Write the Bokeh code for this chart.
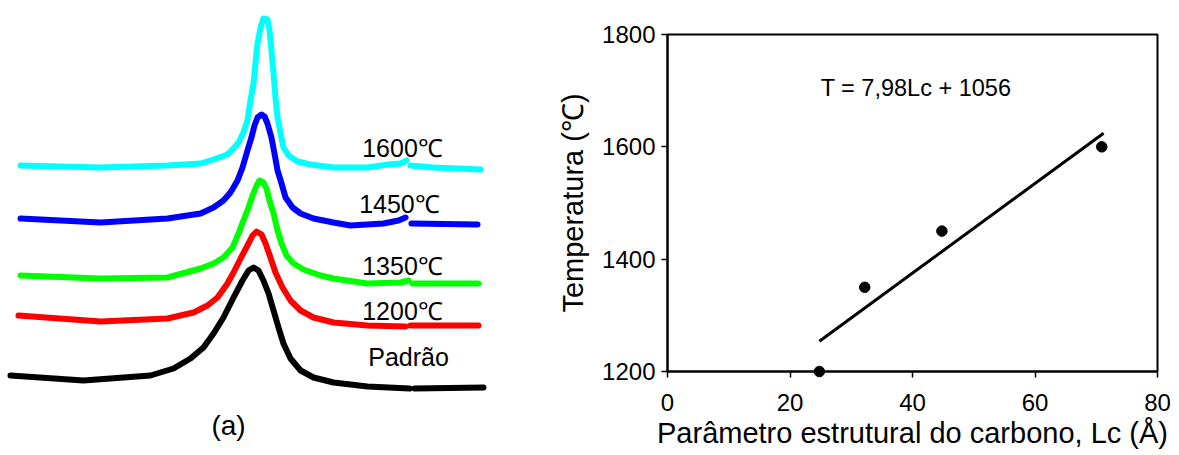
import numpy as np
from bokeh.plotting import figure
from bokeh.layouts import row
from bokeh.models import Range1d, FixedTicker
from bokeh.core.properties import value
from bokeh.embed import file_html
from bokeh.resources import INLINE

FONT = "Liberation Sans"
nan = float("nan")

# ---------------- Panel (a): diffractograms (2theta in degrees, intensity a.u.) ----------------
tt_1600 = [10.63, 15.63, 19.81, 21.88, 22.69, 23.56, 23.94, 24.25, 24.56, 24.81, 25.00, 25.19, 25.31,
           25.44, 25.63, 25.81, 26.06, 26.19, 26.31, 26.44, 26.56, 26.69, 26.88, 27.06, 27.38, 27.94,
           28.75, 30.19, 32.31, 33.60, 34.38, 34.75, nan, 35.00, 36.44, 39.38]
i_1600 = [290, 288, 290, 292, 296, 301, 307, 313, 323, 335, 355, 372, 392,
          412, 428, 437, 436, 425, 405, 382, 358, 338, 322, 308, 300, 294,
          291, 288, 288, 291, 292, 295, nan, 290, 288, 286]

tt_1450 = [10.63, 15.63, 19.81, 21.88, 22.69, 23.31, 23.75, 24.19, 24.50, 24.81, 25.06, 25.25, 25.44,
           25.69, 25.88, 26.06, 26.31, 26.50, 26.69, 26.94, 27.19, 27.63, 28.13, 28.94, 30.19, 31.25,
           33.31, 34.25, 34.69, nan, 35.06, 39.19]
i_1450 = [237, 233, 237, 242, 248, 255, 263, 275, 288, 305, 318, 330, 338,
          341, 339, 332, 318, 302, 285, 272, 258, 248, 242, 237, 233, 230,
          232, 235, 238, nan, 232, 231]

tt_1350 = [10.63, 15.63, 19.81, 21.88, 22.69, 23.31, 23.88, 24.25, 24.56, 24.88, 25.13, 25.38, 25.56,
           25.81, 26.00, 26.19, 26.44, 26.69, 26.94, 27.25, 27.69, 28.31, 29.38, 30.19, 32.31, 34.38,
           34.88, nan, 35.13, 39.25]
i_1350 = [180, 177, 178, 187, 192, 198, 208, 222, 235, 248, 260, 270, 275,
          273, 267, 255, 242, 225, 212, 200, 192, 186, 180, 177, 172, 173,
          175, nan, 172, 172]

tt_1200 = [10.50, 15.63, 19.81, 21.44, 22.31, 22.94, 23.56, 23.94, 24.38, 24.81, 25.13, 25.38, 25.69,
           25.94, 26.25, 26.56, 27.00, 27.50, 28.13, 28.94, 30.19, 32.31, 34.69, nan, 35.00, 39.25]
i_1200 = [140, 134, 137, 143, 150, 158, 172, 183, 197, 210, 220, 224, 221,
          212, 198, 183, 168, 155, 145, 138, 133, 130, 129, nan, 130, 130]

tt_pad = [10.00, 14.56, 18.75, 20.19, 21.25, 22.06, 22.69, 23.31, 23.94, 24.50, 24.88, 25.19, 25.50,
          25.81, 26.13, 26.44, 26.75, 27.06, 27.50, 28.13, 28.94, 30.19, 32.31, 34.94, nan, 35.25, 39.56]
i_pad = [80, 75, 80, 87, 97, 108, 122, 138, 158, 175, 185, 188, 185,
         175, 162, 145, 128, 112, 97, 85, 78, 73, 69, 67, nan, 67, 68]

series_a = [
    (tt_1600, i_1600, "#00FFFF"),
    (tt_1450, i_1450, "#0000FF"),
    (tt_1350, i_1350, "#00FF00"),
    (tt_1200, i_1200, "#FF0000"),
    (tt_pad, i_pad, "#000000"),
]
labels_a = ["1600℃", "1450℃", "1350℃", "1200℃", "Padrão"]
label_tt = [34.5, 34.31, 34.5, 34.5, 34.88]
label_i = [308, 252, 190, 145, 99]

pa = figure(width=540, height=455, output_backend="svg", toolbar_location=None,
            x_axis_location=None, y_axis_location=None,
            x_range=Range1d(9.375, 43.125), y_range=Range1d(0, 455),
            min_border=0, outline_line_color=None)
pa.frame_align = False
pa.grid.visible = False
for xs, ys, col in series_a:
    r_ = pa.line(xs, ys, line_color=col, line_width=6, line_cap="round", line_join="round")
    r_.level = "overlay"
pa.text(label_tt, label_i, text=labels_a, text_align="center", text_baseline="middle",
        text_font=value(FONT), text_font_size="25px", text_color="black")
pa.text([23.63], [30], text=["(a)"], text_align="center", text_baseline="middle",
        text_font=value(FONT), text_font_size="28px", text_color="black")

# ---------------- Panel (b): temperature vs Lc ----------------
lc = [24.8, 32.2, 44.8, 70.9]
temp = [1200, 1350, 1450, 1600]
slope, intercept = 7.98, 1056
fit_lc = np.array([24.8, 71.2])
fit_t = slope * fit_lc + intercept
x_ticks = [0, 20, 40, 60, 80]
y_ticks = [1200, 1400, 1600, 1800]

pb = figure(width=639, height=455, output_backend="svg", toolbar_location=None,
            x_range=Range1d(0, 80), y_range=Range1d(1200, 1800),
            min_border_left=127, min_border_right=22, min_border_top=34, min_border_bottom=84,
            outline_line_color="black", outline_line_width=2)
pb.frame_align = False
pb.grid.visible = False
pb.line(fit_lc, fit_t, line_color="black", line_width=3)
r = pb.scatter(lc, temp, size=10.5, color="black")
r.level = "overlay"
pb.text([25.0], [1704], text=["T = 7,98Lc + 1056"], text_align="left", text_baseline="middle",
        text_font=value(FONT), text_font_size="23.5px", text_color="black")

pb.xaxis.ticker = FixedTicker(ticks=x_ticks)
pb.yaxis.ticker = FixedTicker(ticks=y_ticks)
pb.xaxis.axis_label = "Parâmetro estrutural do carbono, Lc (Å)"
pb.yaxis.axis_label = "Temperatura (℃)"
for ax in (pb.xaxis, pb.yaxis):
    ax.axis_line_width = 2
    ax.axis_line_color = "black"
    ax.major_tick_line_width = 1.5
    ax.major_tick_line_color = "black"
    ax.major_tick_out = 6
    ax.major_tick_in = 0
    ax.minor_tick_line_color = None
    ax.major_label_text_font = FONT
    ax.major_label_text_font_size = "24px"
    ax.major_label_text_color = "black"
    ax.axis_label_text_font = FONT
    ax.axis_label_text_font_size = "29px"
    ax.axis_label_text_font_style = "normal"
    ax.axis_label_text_color = "black"
pb.xaxis.major_label_standoff = 16
pb.xaxis.axis_label_standoff = 3
pb.yaxis.major_label_standoff = 6
pb.yaxis.axis_label_standoff = 10

layout = row(pa, pb)
open("out.html", "w").write(file_html(layout, INLINE))
